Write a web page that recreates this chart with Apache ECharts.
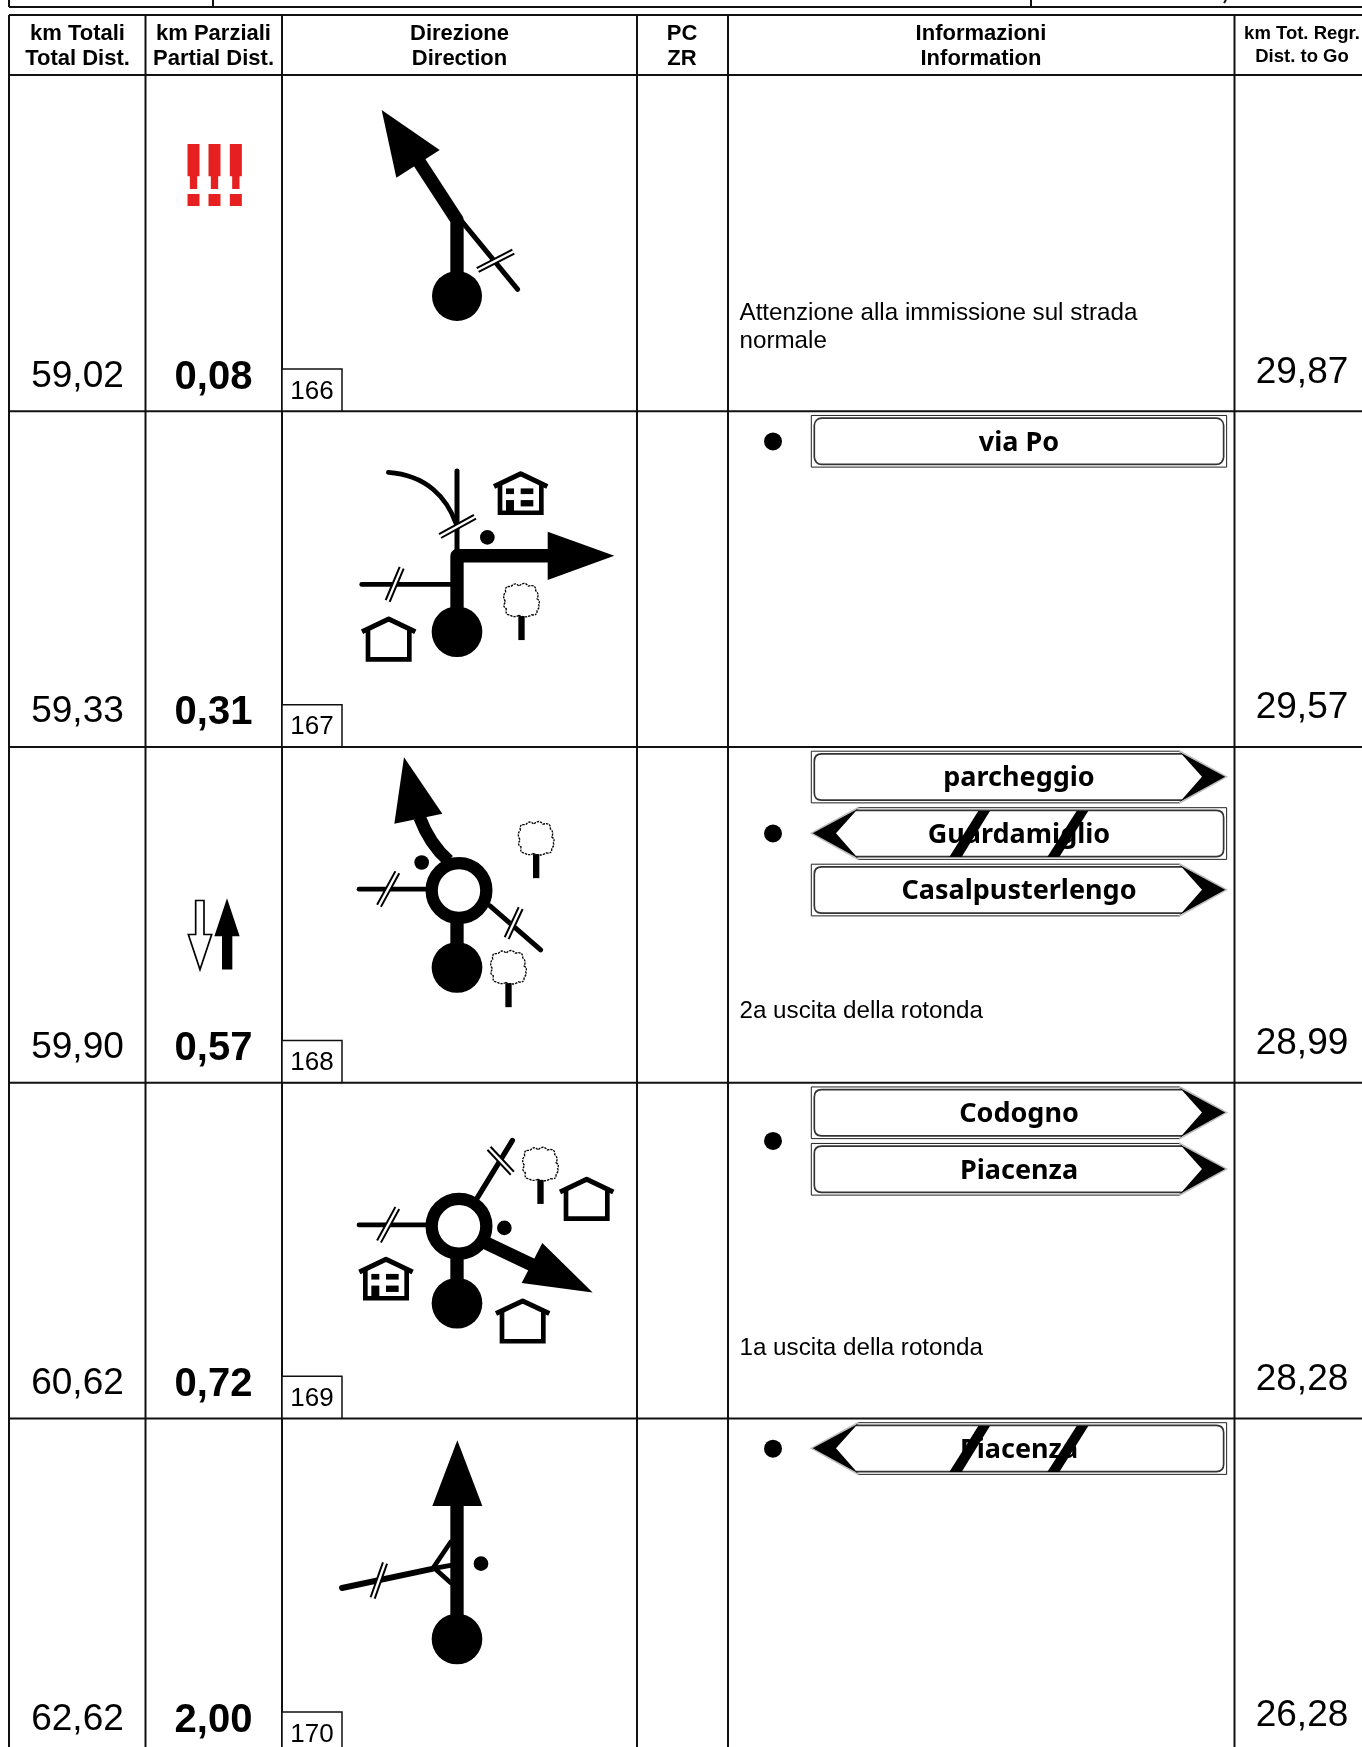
<!DOCTYPE html>
<html>
<head>
<meta charset="utf-8">
<title>Roadbook</title>
<script src="https://cdn.jsdelivr.net/npm/echarts@6/dist/echarts.min.js"></script>
<style>
html,body{margin:0;padding:0;background:#fff;}
#chart{width:1362px;height:1747px;}
</style>
</head>
<body>
<div id="chart"></div>
<script>
var totalKm = [59.02, 59.33, 59.90, 60.62, 62.62];
var partialKm = [0.08, 0.31, 0.57, 0.72, 2.00];
var remainingKm = [29.87, 29.57, 28.99, 28.28, 26.28];
var stepNumbers = [166, 167, 168, 169, 170];
var headerIt = ['km Totali', 'km Parziali', 'Direzione', 'PC', 'Informazioni', 'km Tot. Regr.'];
var headerEn = ['Total Dist.', 'Partial Dist.', 'Direction', 'ZR', 'Information', 'Dist. to Go'];
var notes = [['Attenzione alla immissione sul strada', 'normale'], [], ['2a uscita della rotonda'], ['1a uscita della rotonda'], []];
var signTexts = [[], ['via Po'], ['parcheggio', 'Guardamiglio', 'Casalpusterlengo'], ['Codogno', 'Piacenza'], ['Piacenza']];
var signKinds = [[], ['plain'], ['right', 'left', 'right'], ['right', 'right'], ['left']];

// griglia della pagina, in pixel
var colEdges = [9, 145.5, 282, 637, 728, 1234.5];
var colCenters = [77.5, 213.5, 459.5, 682, 981, 1302];
var headTop = 15, headBottom = 75, rowH = 335.75;
function rowTop(i) { return headBottom + i * rowH; }

var fmt = function (v) { return v.toFixed(2).replace('.', ','); };
var sans = '"Liberation Sans", Arial, sans-serif';

/* ---- pezzi di disegno, unita' = 1/3 di pixel ---- */
function line(pts, w, cap) {
    return {type: 'polyline', shape: {points: pts}, style: {stroke: '#000', fill: null, lineWidth: w, lineCap: cap || 'round', lineJoin: 'round'}};
}
function poly(pts, fill) {
    return {type: 'polygon', shape: {points: pts}, style: {fill: fill || '#000'}};
}
function dot(x, y, r) {
    return {type: 'circle', shape: {cx: x, cy: y, r: r}, style: {fill: '#000'}};
}
function box(x, y, w, h) {
    return {type: 'rect', shape: {x: x, y: y, width: w, height: h}, style: {fill: '#000'}};
}
function slash(a, b) {
    return [line([a, b], 19, 'butt'), {type: 'polyline', shape: {points: [a, b]}, style: {stroke: '#fff', fill: null, lineWidth: 7, lineCap: 'square'}}];
}
function house(px, py, h) {
    return [{type: 'polyline', shape: {points: [[px - 62, py + 36], [px - 62, py + h], [px + 62, py + h], [px + 62, py + 36]]},
        style: {stroke: '#000', fill: '#fff', lineWidth: 14, lineCap: 'butt', lineJoin: 'miter'}},
        line([[px - 80, py + 42], [px, py + 4], [px + 80, py + 42]], 15, 'butt')];
}
function building(px, py) {
    return house(px, py, 121).concat([
        box(px - 44, py + 48, 24, 17), box(px, py + 48, 38, 17), box(px, py + 83, 38, 19), box(px - 44, py + 83, 24, 38)
    ]);
}
function tree(x, y) {
    return [{type: 'path', x: x, y: y,
        shape: {pathData: 'M-8,-2 Q-25,6 -35,-4 Q-50,-2 -46,-22 Q-60,-30 -48,-42 Q-60,-60 -48,-72 Q-52,-92 -32,-88 Q-20,-104 -8,-90 Q8,-106 20,-90 Q44,-96 42,-76 Q54,-66 46,-52 Q58,-44 50,-36 Q56,-26 46,-18 Q48,0 30,-4 Q12,8 -8,-2Z'},
        style: {stroke: '#000', fill: '#fff', lineWidth: 4, lineDash: [7, 3]}},
        box(x - 10, y, 19, 72)];
}
function ring() {
    return {type: 'circle', shape: {cx: 6, cy: -231, r: 82}, style: {fill: '#fff', stroke: '#000', lineWidth: 37}};
}
function stem(y) { return line([[0, -50], [0, y]], 40, 'butt'); }

// tulipani: origine = centro del pallino di partenza
var tulips = [
    function () {
        return [
            line([[15, -223], [182, -20]], 15),
            line([[0, -60], [0, -228], [-125, -420]], 40, 'butt'),
            poly([[-226, -558], [-52, -438], [-182, -355]]),
            dot(0, 0, 75)
        ].concat(slash([62, -78], [169, -133]));
    },
    function () {
        return [].concat(
            [{type: 'path', shape: {pathData: 'M-206,-478 C-90,-470 -30,-400 -3,-325'}, style: {stroke: '#000', fill: null, lineWidth: 14, lineCap: 'round'}},
                line([[0, -482], [0, -240]], 15)],
            slash([-51, -287], [54, -345]),
            [dot(91, -283, 22),
                line([[-286, -142], [-16, -142]], 14)],
            slash([-208, -92], [-166, -192]),
            [line([[0, -60], [0, -228], [274, -228]], 40, 'butt'),
                poly([[272, -300], [472, -228], [272, -155]]),
                dot(0, 0, 76)],
            house(-205, -42, 125),
            building(191, -478),
            tree(194, -47)
        );
    },
    function () {
        return [].concat(
            [{type: 'path', shape: {pathData: 'M-25,-320 Q-82,-370 -112,-450'}, style: {stroke: '#000', fill: null, lineWidth: 38}},
                poly([[-159, -631], [-44, -461], [-188, -431]]),
                dot(-106, -315, 22),
                line([[-294, -235], [-91, -235]], 14),
                line([[99, -185], [251, -53]], 15),
                stem(-150), ring(), dot(0, 0, 76)],
            slash([-234, -185], [-179, -286]),
            slash([149, -88], [191, -178]),
            tree(238, -340),
            tree(155, 47)
        );
    },
    function () {
        return [].concat(
            [line([[59, -313], [166, -488]], 16),
                line([[-294, -235], [-91, -235]], 14),
                dot(142, -226, 22),
                line([[84, -182], [229, -113]], 40, 'butt'),
                poly([[407, -32], [256, -181], [194, -61]]),
                stem(-150), ring(), dot(0, 0, 76)],
            slash([96, -465], [166, -390]),
            slash([-234, -185], [-179, -286]),
            tree(251, -370),
            house(389, -376, 122),
            house(197, -11, 125),
            building(-213, -136)
        );
    },
    function () {
        return [].concat(
            [line([[-345, -153], [-71, -211]], 18),
                line([[-73, -211], [-19, -291]], 14),
                line([[-73, -211], [-19, -221]], 14),
                line([[-61, -206], [-19, -169]], 14)],
            slash([-253, -123], [-216, -228]),
            [line([[0, -56], [0, -406]], 40, 'butt'),
                poly([[1, -596], [-74, -399], [76, -399]]),
                dot(72, -226, 22),
                dot(0, 0, 76)]
        );
    }
];

// simboli nella colonna km parziali
function warningMarks() {
    var out = [];
    [0, 63, 127].forEach(function (x) {
        out.push(poly([[x, 0], [x + 36, 0], [x + 36, 97], [x + 29, 97], [x + 29, 135], [x + 7, 135], [x + 7, 97], [x, 97]], '#e62020'));
        out.push({type: 'rect', shape: {x: x, y: 150, width: 36, height: 36}, style: {fill: '#e62020'}});
    });
    return out;
}
function oneWayMarks() {
    return [
        {type: 'polygon', shape: {points: [[167, 123], [192, 123], [192, 225], [215, 225], [180, 330], [145, 225], [167, 225]]},
            style: {fill: '#fff', stroke: '#000', lineWidth: 5, lineJoin: 'miter'}},
        poly([[261, 116], [299, 230], [277, 230], [277, 330], [246, 330], [246, 230], [223, 230]])
    ];
}

// cartelli: larghezza 1246, altezza 155
function signFrame(kind) {
    var W = 1246, H = 155;
    var mx = function (p) { return kind === 'left' ? [W - p[0], p[1]] : p; };
    var thin = {stroke: '#222', fill: null, lineWidth: 3};
    var out = [];
    if (kind === 'plain') {
        out.push({type: 'rect', shape: {x: 0, y: 0, width: W, height: H}, style: thin});
        out.push({type: 'rect', shape: {x: 9, y: 8, width: W - 18, height: H - 16, r: 22}, style: {stroke: '#333', fill: '#fff', lineWidth: 5}});
        return out;
    }
    out.push({type: 'polyline', shape: {points: [[1106, 0], [0, 0], [0, H], [1106, H]].map(mx)}, style: thin});
    out.push({type: 'polygon', shape: {points: [[1106, 0], [1246, 77], [1106, H]].map(mx)}, style: {stroke: '#bbb', fill: '#fff', lineWidth: 4}});
    var x0 = 9, x1 = 1112, y0 = 8, y1 = 147, r = 22;
    var a = mx([x1, y0]), b = mx([x0 + r, y0]), c = mx([x0, y0]), d = mx([x0, y0 + r]), e = mx([x0, y1 - r]), f = mx([x0, y1]), g = mx([x0 + r, y1]), h = mx([x1, y1]);
    out.push({type: 'path', shape: {pathData: 'M' + a + 'L' + b + 'Q' + c + ' ' + d + 'L' + e + 'Q' + f + ' ' + g + 'L' + h},
        style: {stroke: '#333', fill: '#fff', lineWidth: 5}});
    out.push({type: 'polygon', shape: {points: [[1106, 3], [1242, 77], [1106, 152], [1172, 77]].map(mx)}, style: {fill: '#000'}});
    return out;
}
function crossBars() {
    return [poly([[501, 10], [536, 10], [451, 148], [414, 148]]), poly([[796, 10], [831, 10], [744, 148], [708, 148]])];
}

function label(pos, text, size, weight, align, family) {
    return {type: 'text', x: pos[0], y: pos[1], style: {text: text, fontSize: size, fontWeight: weight || 'normal',
        fontFamily: family || sans, fill: '#000', align: align || 'center', verticalAlign: 'middle'}};
}
function scaled(pos, children) {
    return {type: 'group', x: pos[0], y: pos[1], scaleX: 1 / 3, scaleY: 1 / 3, children: children};
}

// righe della tabella
function renderRules(params, api) {
    var kids = [];
    function rule(x1, y1, x2, y2, w) {
        var a = api.coord([x1, y1]), b = api.coord([x2, y2]);
        kids.push({type: 'line', shape: {x1: a[0], y1: a[1], x2: b[0], y2: b[1]}, style: {stroke: '#111', lineWidth: w}});
    }
    // striscia in alto, resto della tabella precedente
    rule(9, 7, 1362, 7, 2);
    rule(9, 0, 9, 7, 2);
    rule(213, 0, 213, 7, 2);
    rule(1031, 0, 1031, 7, 2);
    rule(1226, 0, 1224, 3, 2);
    rule(9, headTop, 1362, headTop, 2);
    rule(9, headBottom, 1362, headBottom, 2);
    stepNumbers.forEach(function (n, i) {
        rule(9, rowTop(i + 1) + 0.5, 1362, rowTop(i + 1) + 0.5, 2);
    });
    colEdges.forEach(function (x) {
        rule(x, headTop, x, 1747, 2);
    });
    return {type: 'group', children: kids};
}

function renderHeader(params, api) {
    var i = params.dataIndex;
    var small = i === 5;
    return {type: 'group', children: [
        label(api.coord([colCenters[i], small ? 34 : 33.5]), headerIt[i], small ? 18.5 : 22, 'bold'),
        label(api.coord([colCenters[i], small ? 57 : 59]), headerEn[i], small ? 18.5 : 22, 'bold')
    ]};
}

function renderRow(params, api) {
    var i = params.dataIndex;
    var top = rowTop(i);
    var kids = [];
    // numero del riquadro
    var tl = api.coord([colEdges[2], top + 294]), br = api.coord([342, top + 336]);
    kids.push({type: 'rect', shape: {x: tl[0], y: tl[1], width: br[0] - tl[0], height: br[1] - tl[1]}, style: {fill: '#fff', stroke: '#111', lineWidth: 1.5}});
    kids.push(label(api.coord([312, top + 316.5]), String(stepNumbers[i]), 26));
    kids.push(label(api.coord([colCenters[0], top + 301.5]), fmt(totalKm[i]), 37));
    kids.push(label(api.coord([colCenters[1], top + 302.5]), fmt(partialKm[i]), 40, 'bold'));
    kids.push(label(api.coord([colCenters[5], top + 297.5]), fmt(remainingKm[i]), 37));
    kids.push(scaled(api.coord([457, top + 221]), tulips[i]()));
    if (i === 0) kids.push(scaled(api.coord([187.5, top + 69]), warningMarks()));
    if (i === 2) kids.push(scaled(api.coord([140, top + 113]), oneWayMarks()));
    // note
    var noteY = i === 0 ? 238 : (i === 2 ? 265 : 266);
    notes[i].forEach(function (t, k) {
        kids.push(label(api.coord([739.5, top + noteY + k * 28]), t, 24.2, 'normal', 'left'));
    });
    // cartelli e pallino
    signTexts[i].forEach(function (t, k) {
        var y = top + 4.7 + k * 56.5;
        kids.push(scaled(api.coord([811.3, y]), signFrame(signKinds[i][k])));
        kids.push(label(api.coord([1019, y + 27.5]), t, 27, 'bold', 'center', '"Noto Sans", sans-serif'));
        if (signKinds[i][k] === 'left') kids.push(scaled(api.coord([811.3, y]), crossBars()));
    });
    if (signTexts[i].length) {
        var bulletY = signTexts[i].length === 3 ? 87 : (signTexts[i].length === 2 ? 58.7 : 30.7);
        var c = api.coord([773, top + bulletY]);
        kids.push({type: 'circle', shape: {cx: c[0], cy: c[1], r: 9}, style: {fill: '#000'}});
    }
    return {type: 'group', children: kids};
}

var chart = echarts.init(document.getElementById('chart'), null, {renderer: 'canvas'});
chart.setOption({
    animation: false,
    backgroundColor: '#fff',
    grid: {left: 0, right: 0, top: 0, bottom: 0},
    xAxis: {type: 'value', min: 0, max: 1362, show: false},
    yAxis: {type: 'value', min: 0, max: 1747, inverse: true, show: false},
    tooltip: {show: false},
    series: [
        {type: 'custom', coordinateSystem: 'cartesian2d', silent: true, clip: false, renderItem: renderRules, data: [[0]], encode: {x: 0}, z: 1},
        {type: 'custom', coordinateSystem: 'cartesian2d', silent: true, clip: false, renderItem: renderRow, data: stepNumbers.map(function (n, i) { return [i]; }), encode: {x: 0}, z: 2},
        {type: 'custom', coordinateSystem: 'cartesian2d', silent: true, clip: false, renderItem: renderHeader, data: headerIt.map(function (n, i) { return [i]; }), encode: {x: 0}, z: 3}
    ]
});
</script>
</body>
</html>
